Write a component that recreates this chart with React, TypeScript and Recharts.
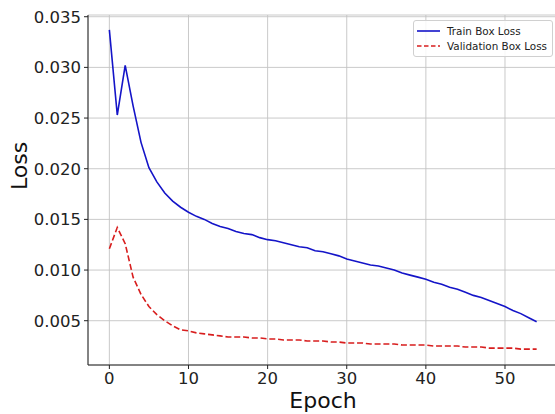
import { CartesianGrid, Line, LineChart, XAxis, YAxis } from 'recharts';

const epochs = Array.from({ length: 55 }, (_, i) => i);

const trainBoxLoss = [
  0.0337, 0.0253, 0.0302, 0.0262, 0.0226, 0.0201, 0.0187, 0.0176, 0.0168, 0.0162,
  0.0157, 0.0153, 0.015, 0.0146, 0.0143, 0.0141, 0.0138, 0.0136, 0.0135, 0.0132,
  0.013, 0.0129, 0.0127, 0.0125, 0.0123, 0.0122, 0.0119, 0.0118, 0.0116, 0.0114,
  0.0111, 0.0109, 0.0107, 0.0105, 0.0104, 0.0102, 0.01, 0.0097, 0.0095, 0.0093,
  0.0091, 0.0088, 0.0086, 0.0083, 0.0081, 0.0078, 0.0075, 0.0073, 0.007, 0.0067,
  0.0064, 0.006, 0.0057, 0.0053, 0.0049,
];

const valBoxLoss = [
  0.0121, 0.0142, 0.0126, 0.0093, 0.0076, 0.0064, 0.0056, 0.005, 0.0045, 0.0041,
  0.004, 0.0038, 0.0037, 0.0036, 0.0035, 0.0034, 0.0034, 0.0034, 0.0033, 0.0033,
  0.0032, 0.0032, 0.0031, 0.0031, 0.0031, 0.003, 0.003, 0.003, 0.0029, 0.0029,
  0.0028, 0.0028, 0.0028, 0.0027, 0.0027, 0.0027, 0.0027, 0.0026, 0.0026, 0.0026,
  0.0026, 0.0025, 0.0025, 0.0025, 0.0025, 0.0024, 0.0024, 0.0024, 0.0023, 0.0023,
  0.0023, 0.0023, 0.0022, 0.0022, 0.0022,
];

const xTicks = [0, 10, 20, 30, 40, 50];
const yTicks = [0.005, 0.01, 0.015, 0.02, 0.025, 0.03, 0.035];

const data = epochs.map((epoch, i) => ({
  epoch,
  train: trainBoxLoss[i],
  val: valBoxLoss[i],
}));

const FONT = '"DejaVu Sans", sans-serif';
const BLUE = '#1414c8';
const RED = '#d81e1e';

function LegendBox() {
  const row = (label: string, color: string, dash?: string) => (
    <div style={{ display: 'flex', alignItems: 'center', height: 15.5 }}>
      <svg width={24} height={6} style={{ marginRight: 6 }}>
        <line x1={0} x2={23} y1={3} y2={3} stroke={color} strokeWidth={1.6} strokeDasharray={dash} />
      </svg>
      <span>{label}</span>
    </div>
  );
  return (
    <div
      style={{
        position: 'absolute',
        left: 413,
        top: 20,
        border: '1px solid #d0d0d0',
        borderRadius: 3,
        background: 'rgba(255,255,255,0.85)',
        padding: '2px 4px 2px 3px',
        fontFamily: FONT,
        fontSize: 10.4,
        color: '#222',
        width: 131,
      }}
    >
      {row('Train Box Loss', BLUE)}
      {row('Validation Box Loss', RED, '4.5 2.5')}
    </div>
  );
}

export default function App() {
  return (
    <div
      style={{
        position: 'absolute',
        left: 0,
        top: 0,
        width: 555,
        height: 414,
        overflow: 'hidden',
        background: '#fff',
      }}
    >
      <LineChart width={560} height={414} data={data} margin={{ top: 15, right: 2, left: 0, bottom: 0 }}>
        <CartesianGrid stroke="#c4c4c4" strokeWidth={0.9} vertical horizontal />
        <XAxis
          dataKey="epoch"
          type="number"
          domain={[-2.7, 56.7]}
          ticks={xTicks}
          allowDataOverflow
          height={49}
          stroke="#222"
          tickSize={4}
          tickMargin={3}
          tick={{ fill: '#222', fontSize: 16.5, fontFamily: FONT }}
          label={{ value: 'Epoch', position: 'insideBottom', offset: 6, fill: '#111', fontSize: 22, fontFamily: FONT }}
        />
        <XAxis xAxisId="top" orientation="top" dataKey="epoch" type="number" domain={[-2.7, 56.7]} height={0} tick={false} tickLine={false} stroke="#222" />
        <YAxis
          type="number"
          domain={[0.00063, 0.03517]}
          ticks={yTicks}
          allowDataOverflow
          width={88}
          stroke="#222"
          tickSize={4}
          tickMargin={3}
          tickFormatter={(v: number) => v.toFixed(3)}
          tick={{ fill: '#222', fontSize: 16.5, fontFamily: FONT }}
          label={{ value: 'Loss', angle: -90, position: 'insideLeft', offset: 19, fill: '#111', fontSize: 22, fontFamily: FONT }}
        />
        <Line
          type="linear"
          dataKey="train"
          name="Train Box Loss"
          stroke={BLUE}
          strokeWidth={1.6}
          dot={false}
          isAnimationActive={false}
        />
        <Line
          type="linear"
          dataKey="val"
          name="Validation Box Loss"
          stroke={RED}
          strokeWidth={1.6}
          strokeDasharray="6 2.8"
          dot={false}
          isAnimationActive={false}
        />
      </LineChart>
      <LegendBox />
    </div>
  );
}
